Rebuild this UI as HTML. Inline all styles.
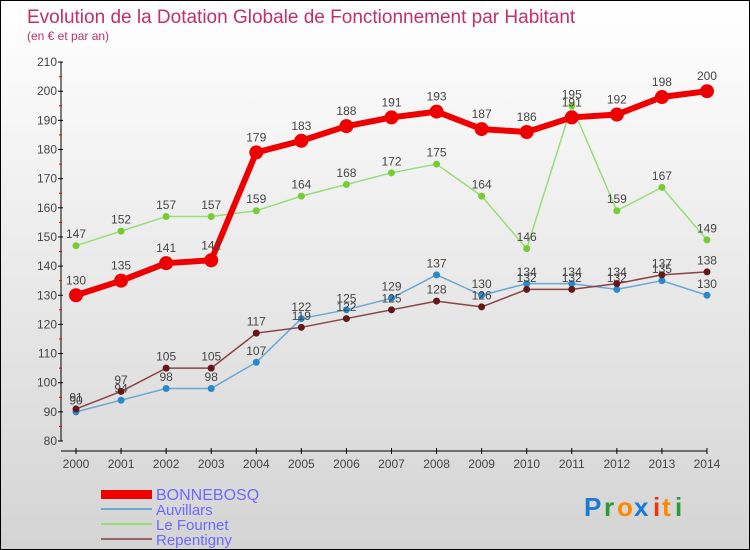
<!DOCTYPE html>
<html><head><meta charset="utf-8"><style>
body{margin:0}
#c{width:748px;height:548px;border:1px solid #000;background:linear-gradient(#fff,#d4d4d4);position:relative;font-family:"Liberation Sans",sans-serif;overflow:hidden}
</style></head><body>
<div id="c">
<svg id="s" width="748" height="548">
<text x="26" y="22" font-size="19" fill="#c0306a">Evolution de la Dotation Globale de Fonctionnement par Habitant</text>
<text x="26" y="39" font-size="12" fill="#c0306a">(en € et par an)</text>
<g id="axes"></g><g id="series"></g>
<g>
<rect x="100" y="489" width="51" height="9" fill="#e00"/>
<text x="155" y="499" font-size="16" fill="#6a6aff">BONNEBOSQ</text>
<rect x="100" y="507" width="51" height="2" fill="#6aa8d0"/>
<text x="155" y="514" font-size="15" fill="#6a6aff">Auvillars</text>
<rect x="100" y="522" width="51" height="2" fill="#99dd77"/>
<text x="155" y="529" font-size="15" fill="#6a6aff">Le Fournet</text>
<rect x="100" y="537" width="51" height="2" fill="#996666"/>
<text x="155" y="544" font-size="15" fill="#6a6aff">Repentigny</text>
</g>
<g font-size="26" font-weight="bold">
<text x="583" y="515" fill="#1a7ad4">P</text><text x="603" y="515" fill="#2a9a3a">r</text><text x="616" y="515" fill="#ff8800">o</text><text x="633" y="515" fill="#1a7ad4">x</text><text x="652" y="515" fill="#ee3311">i</text><text x="661" y="515" fill="#ff8800">t</text><text x="674" y="515" fill="#2a9a3a">i</text>
</g>
</svg></div>
<script>
const years=[2000,2001,2002,2003,2004,2005,2006,2007,2008,2009,2010,2011,2012,2013,2014];
const bonnebosq=[130,135,141,142,179,183,188,191,193,187,186,191,192,198,200];
const auvillars=[90,94,98,98,107,122,125,129,137,130,134,134,132,135,130];
const leFournet=[147,152,157,157,159,164,168,172,175,164,146,195,159,167,149];
const repentigny=[91,97,105,105,117,119,122,125,128,126,132,132,134,137,138];
const yTicks=[80,90,100,110,120,130,140,150,160,170,180,190,200,210];
const NS="http://www.w3.org/2000/svg";
const X=i=>75+i*45.07, Y=v=>440-(v-80)*2.915;
function mk(p,t,a){const e=document.createElementNS(NS,t);for(const k in a)e.setAttribute(k,a[k]);p.appendChild(e);return e;}
const ax=document.getElementById('axes');
let yl=mk(ax,'line',{x1:60,y1:Y(210),x2:60,y2:Y(80),stroke:'#000'});


let xl=mk(ax,'line',{x1:60,y1:450,x2:X(14),y2:450,stroke:'#000'});


yTicks.forEach(v=>{
 mk(ax,'line',{x1:57,x2:62,y1:Y(v),y2:Y(v),stroke:'#000'});
 if(v<210)mk(ax,'line',{x1:58,x2:61,y1:Y(v+5),y2:Y(v+5),stroke:'#e00'});
 const t=mk(ax,'text',{x:56,y:Y(v)+4,'font-size':12,fill:'#444','text-anchor':'end'});t.textContent=v;
 
 
});
years.forEach((y,i)=>{
 mk(ax,'line',{x1:X(i),x2:X(i),y1:447,y2:453,stroke:'#000'});
 const t=mk(ax,'text',{x:X(i),y:467,'font-size':12,fill:'#444','text-anchor':'middle'});t.textContent=y;
 
 
});
const sg=document.getElementById('series');
function draw(data,name,color,dot,w,r,fs){
 const g=mk(sg,'g',{});
 
 
 mk(g,'polyline',{points:data.map((v,i)=>X(i)+','+Y(v)).join(' '),fill:'none',stroke:color,'stroke-width':w,'stroke-linejoin':'round'});
 data.forEach((v,i)=>{
  const c=mk(g,'circle',{cx:X(i),cy:Y(v),r:r,fill:dot});
  
  
  const t=mk(g,'text',{x:X(i),y:Y(v)-r-4,'font-size':fs,fill:'#444','text-anchor':'middle'});t.textContent=v;
  
  
 });
}
draw(leFournet,'le-fournet','#99dd77','#77cc33',1.5,3.5,12);
draw(auvillars,'auvillars','#6aa8d0','#2a88cc',1.5,3.5,12);
draw(repentigny,'repentigny','#884444','#661818',1.5,3.5,12);
draw(bonnebosq,'bonnebosq','#ee0000','#ee0000',6,7,12);
</script>
</body></html>
